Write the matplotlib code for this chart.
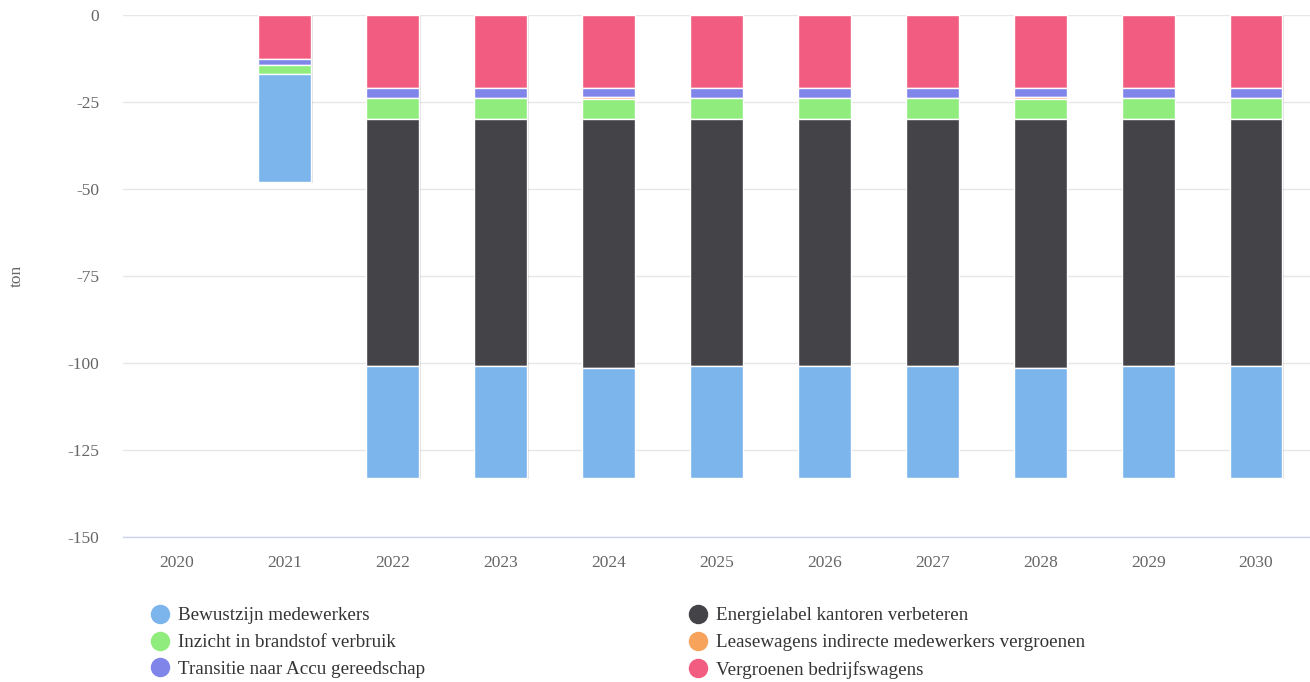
import matplotlib.pyplot as plt
import matplotlib.patheffects as pe
import numpy as np
from matplotlib.lines import Line2D

plt.rcParams["font.family"] = ["Liberation Serif", "DejaVu Serif"]

years = ["2020", "2021", "2022", "2023", "2024", "2025", "2026", "2027", "2028", "2029", "2030"]

# tons reduced per measure (drawn as negative values)
vergroenen_bedrijfswagens = [0, 12.7, 21.0, 21.0, 21.0, 21.0, 21.0, 21.0, 21.0, 21.0, 21.0]
transitie_accu = [0, 1.8, 2.8, 2.8, 2.6, 2.8, 2.8, 2.8, 2.6, 2.8, 2.8]
leasewagens = [0, 0.0, 0.0, 0.0, 0.5, 0.0, 0.0, 0.0, 0.5, 0.0, 0.0]
inzicht_brandstof = [0, 2.5, 6.1, 6.1, 5.8, 6.1, 6.1, 6.1, 5.8, 6.1, 6.1]
energielabel = [0, 0.0, 71.0, 71.0, 71.6, 71.0, 71.0, 71.0, 71.6, 71.0, 71.0]
bewustzijn = [0, 31.0, 32.1, 32.1, 31.5, 32.1, 32.1, 32.1, 31.5, 32.1, 32.1]

series = [
    ("Vergroenen bedrijfswagens", vergroenen_bedrijfswagens, "#f15c80"),
    ("Transitie naar Accu gereedschap", transitie_accu, "#8085e9"),
    ("Leasewagens indirecte medewerkers vergroenen", leasewagens, "#f7a35c"),
    ("Inzicht in brandstof verbruik", inzicht_brandstof, "#90ed7d"),
    ("Energielabel kantoren verbeteren", energielabel, "#434348"),
    ("Bewustzijn medewerkers", bewustzijn, "#7cb5ec"),
]

fig = plt.figure(figsize=(13.1, 6.82), dpi=100)
ax = fig.add_axes([0.0939, 0.2126, 0.9061, 0.7654])

x = np.arange(len(years))
bottom = np.zeros(len(years))
shadow = [pe.SimplePatchShadow(offset=(1, -1), shadow_rgbFace="#000000", alpha=0.12), pe.Normal()]
for name, values, color in series:
    vals = -np.asarray(values, dtype=float)
    bars = ax.bar(x, vals, 0.49, bottom=bottom, color=color, edgecolor="white",
                  linewidth=1, zorder=3)
    for bar, v in zip(bars, vals):
        if v == 0:
            bar.set_visible(False)
        else:
            bar.set_path_effects(shadow)
    bottom = bottom + vals

ax.set_xlim(-0.5, 10.5)
ax.set_ylim(-150, 0)
ax.set_yticks([0, -25, -50, -75, -100, -125, -150])
ax.set_yticklabels(["0", "-25", "-50", "-75", "-100", "-125", "-150"])
ax.set_xticks(x)
ax.set_xticklabels(years)
ax.tick_params(axis="both", length=0, labelsize=12.5, labelcolor="#666666")
ax.tick_params(axis="y", pad=17)
ax.tick_params(axis="x", pad=13)
ax.grid(axis="y", color="#e6e6e6", linewidth=1, zorder=0)
for side in ["top", "right", "left"]:
    ax.spines[side].set_visible(False)
ax.spines["bottom"].set_color("#ccd6eb")
ax.spines["bottom"].set_linewidth(1)
ax.set_ylabel("ton", fontsize=12.5, color="#666666")
ax.yaxis.set_label_coords(-0.083, 0.5)

legend_order = [5, 3, 1, 4, 2, 0]
handles = [Line2D([0], [0], marker="o", linestyle="", markersize=13,
                  markerfacecolor=series[i][2], markeredgecolor=series[i][2]) for i in legend_order]
labels = [series[i][0] for i in legend_order]
fig.legend(handles, labels, ncol=2, loc="upper left", bbox_to_anchor=(0.1075, 0.121),
           frameon=False, fontsize=13.7, labelcolor="#333333", handletextpad=0.35,
           columnspacing=13.75, labelspacing=0.5, borderaxespad=0, handlelength=1.2)

fig.savefig("out.png", dpi=100)
